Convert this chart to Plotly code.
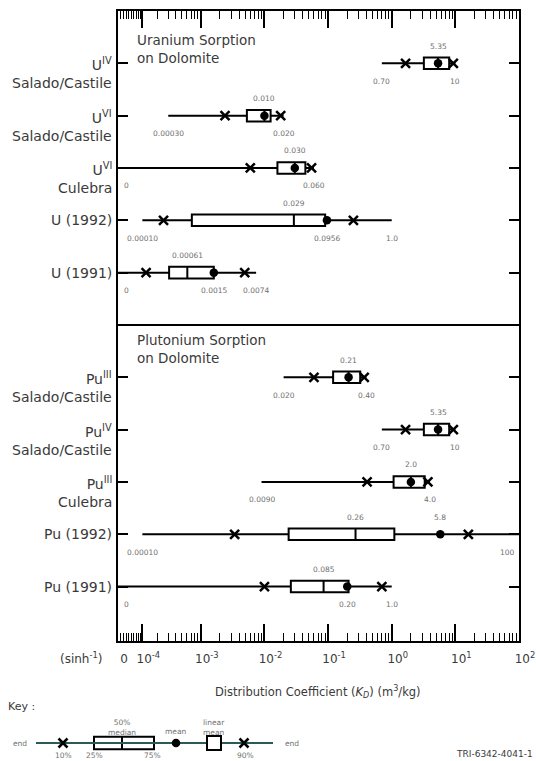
import numpy as np
import plotly.graph_objects as go

W, H = 536, 761

# ---------------- data ----------------
ROW_LABELS = [
    "U<sup>IV</sup><br>Salado/Castile",
    "U<sup>VI</sup><br>Salado/Castile",
    "U<sup>VI</sup><br>Culebra",
    "U (1992)",
    "U (1991)",
    "Pu<sup>III</sup><br>Salado/Castile",
    "Pu<sup>IV</sup><br>Salado/Castile",
    "Pu<sup>III</sup><br>Culebra",
    "Pu (1992)",
    "Pu (1991)",
]
ROW_PANEL = [0, 0, 0, 0, 0, 1, 1, 1, 1, 1]
PANEL_TITLES = ["Uranium Sorption<br>on Dolomite", "Plutonium Sorption<br>on Dolomite"]

KD_MIN = [0.70, 0.00030, 0.0, 0.00010, 0.0, 0.020, 0.70, 0.0090, 0.00010, 0.0]
KD_P10 = [1.65, 0.0024, 0.0060, 0.00025, 0.00012, 0.060, 1.65, 0.41, 0.0034, 0.010]
KD_P25 = [3.2, 0.0053, 0.016, 0.00072, 0.00031, 0.12, 3.2, 1.07, 0.024, 0.026]
KD_MED = [5.35, 0.010, 0.030, 0.029, 0.00061, 0.21, 5.35, 2.0, 0.27, 0.085]
KD_MEAN = [5.35, 0.010, 0.030, 0.096, 0.0016, 0.21, 5.35, 2.0, 5.8, 0.20]
KD_P75 = [8.0, 0.0125, 0.044, 0.090, 0.0016, 0.32, 8.0, 3.3, 1.1, 0.21]
KD_P90 = [9.3, 0.018, 0.055, 0.25, 0.0049, 0.37, 9.3, 3.7, 16.0, 0.70]
KD_MAX = [10.0, 0.020, 0.060, 1.0, 0.0074, 0.40, 10.0, 4.0, 100.0, 1.0]

LABELS_ABOVE = [
    [(5.35, "5.35")],
    [(0.010, "0.010")],
    [(0.030, "0.030")],
    [(0.029, "0.029")],
    [(0.00061, "0.00061")],
    [(0.21, "0.21")],
    [(5.35, "5.35")],
    [(2.0, "2.0")],
    [(0.27, "0.26"), (5.8, "5.8")],
    [(0.085, "0.085")],
]
LABELS_BELOW = [
    [(0.70, "0.70"), (10.0, "10")],
    [(0.00030, "0.00030"), (0.020, "0.020")],
    [(0.0, "0"), (0.060, "0.060")],
    [(0.00010, "0.00010"), (0.096, "0.0956"), (1.0, "1.0")],
    [(0.0, "0"), (0.0016, "0.0015"), (0.0074, "0.0074")],
    [(0.020, "0.020"), (0.40, "0.40")],
    [(0.70, "0.70"), (10.0, "10")],
    [(0.0090, "0.0090"), (4.0, "4.0")],
    [(0.00010, "0.00010"), (100.0, "100")],
    [(0.0, "0"), (0.20, "0.20"), (1.0, "1.0")],
]

TICK_VALUES = [0, 1e-4, 1e-3, 1e-2, 1e-1, 1.0, 10.0, 100.0]
TICK_LABELS = ["0", "10<sup>-4</sup>", "10<sup>-3</sup>", "10<sup>-2</sup>", "10<sup>-1</sup>",
               "10<sup>0</sup>", "10<sup>1</sup>", "10<sup>2</sup>"]
MINOR_VALUES = [k * 1e-5 for k in range(1, 10)] + \
               [k * 10.0 ** n for n in range(-4, 2) for k in range(2, 10)]

# key (illustration) positions along the key strip, in pixels
KEY_LINE = [36, 273]
KEY_X10, KEY_X90 = 63, 244
KEY_Q1, KEY_MED, KEY_Q3 = 94, 122, 154
KEY_MEAN, KEY_LMEAN = 176, 214

# ---------------- helpers ----------------
SINH_C = 1e-4


def xs(v):
    """sinh^-1 scale in decade units"""
    return np.arcsinh(np.asarray(v, dtype=float) / SINH_C) / np.log(10)


def py(pix):
    return 1 - pix / H


def pxx(pix):
    return pix / W


FONT = "DejaVu Sans"
TXT = "#3a3a3a"
SMALL = "#707070"

ypos = [i % 5 + 1 + 6 * p for i, p in enumerate(ROW_PANEL)]
divider_y = (ypos[4] + ypos[5]) / 2

fig = go.Figure()

# whiskers + boxes
fig.add_trace(go.Box(
    y=ypos, q1=xs(KD_P25), median=xs(KD_MED), q3=xs(KD_P75),
    lowerfence=xs(KD_MIN), upperfence=xs(KD_MAX),
    orientation="h", width=0.22, whiskerwidth=0,
    fillcolor="white", line=dict(color="black", width=2),
    boxpoints=False, hoverinfo="skip", showlegend=False,
))
# 10% / 90% markers
fig.add_trace(go.Scatter(
    x=np.concatenate([xs(KD_P10), xs(KD_P90)]), y=ypos + ypos, mode="markers",
    marker=dict(symbol="x-thin", size=9, line=dict(width=2.5, color="black")),
    hoverinfo="skip", showlegend=False,
))
# mean
fig.add_trace(go.Scatter(
    x=xs(KD_MEAN), y=ypos, mode="markers",
    marker=dict(symbol="circle", size=8.5, color="black"),
    hoverinfo="skip", showlegend=False,
))

ann = []
# row labels
for lab, y in zip(ROW_LABELS, ypos):
    two = "<br>" in lab
    ann.append(dict(x=pxx(114), xref="paper", y=y, yref="y", text=lab, showarrow=False,
                    xanchor="right", yanchor="top" if two else "middle", yshift=10 if two else 0,
                    align="right", font=dict(family=FONT, size=14, color=TXT)))
# value labels
for y, ab, be in zip(ypos, LABELS_ABOVE, LABELS_BELOW):
    for v, s in ab:
        ann.append(dict(x=float(xs(v)), xref="x", y=y, yref="y", text=s, showarrow=False,
                        xanchor="center", yanchor="middle",
                        yshift=17, font=dict(family=FONT, size=7.5, color=SMALL)))
    for v, s in be:
        d = dict(x=float(xs(v)), xref="x", y=y, yref="y", text=s, showarrow=False,
                 xanchor="center", yanchor="middle",
                 yshift=-18, font=dict(family=FONT, size=7.5, color=SMALL))
        if v <= 0:
            d["xshift"] = 8
        if v >= TICK_VALUES[-1]:
            d["xanchor"] = "right"
            d["xshift"] = -2
        ann.append(d)
# panel titles
for ttl, ycen in zip(PANEL_TITLES, [49, 349]):
    ann.append(dict(x=pxx(135), xref="paper", y=py(ycen), yref="paper", text=ttl,
                    showarrow=False, xanchor="left", yanchor="middle", align="left",
                    font=dict(family=FONT, size=13.5, color=TXT)))
# axis extras
ann.append(dict(x=pxx(105), xref="paper", y=py(658), yref="paper", text="(sinh<sup>-1</sup>)",
                xanchor="right", yanchor="middle", showarrow=False,
                font=dict(family=FONT, size=12, color=TXT)))
ann.append(dict(x=pxx(318), xref="paper", y=py(692), yref="paper",
                text="Distribution Coefficient (<i>K<sub>D</sub></i>) (m<sup>3</sup>/kg)",
                xanchor="center", yanchor="middle",
                showarrow=False, font=dict(family=FONT, size=11.5, color=TXT)))
ann.append(dict(x=pxx(6), xref="paper", y=py(706), yref="paper", text="Key :", xanchor="left",
                yanchor="middle", showarrow=False, font=dict(family=FONT, size=11, color=TXT)))
ann.append(dict(x=pxx(535), xref="paper", y=py(754), yref="paper", text="TRI-6342-4041-1",
                xanchor="right", yanchor="middle", showarrow=False,
                font=dict(family=FONT, size=9, color=TXT)))

# key texts
KEY_TEXT = [
    ("end", 20, 743), ("end", 292, 743),
    ("10%", KEY_X10, 755), ("25%", KEY_Q1, 755), ("75%", KEY_Q3 - 2, 755), ("90%", KEY_X90 + 1, 755),
    ("50%<br>median", KEY_MED, 727), ("mean", KEY_MEAN, 731), ("linear<br>mean", KEY_LMEAN, 727),
]
for s, x, yy in KEY_TEXT:
    ann.append(dict(x=x, xref="x3", y=py(yy), yref="paper", text=s, showarrow=False,
                    xanchor="center", yanchor="middle",
                    font=dict(family=FONT, size=7.5, color=SMALL)))

# key graphic
kk = dict(xaxis="x3", yaxis="y3", hoverinfo="skip", showlegend=False)
fig.add_trace(go.Scatter(x=KEY_LINE, y=[0, 0], mode="lines", line=dict(color="#2c5a5a", width=2), **kk))
fig.add_trace(go.Box(y=[0], q1=[KEY_Q1], median=[KEY_MED], q3=[KEY_Q3], lowerfence=[KEY_Q1],
                     upperfence=[KEY_Q3], orientation="h", width=1.4, whiskerwidth=0,
                     fillcolor="white", line=dict(color="black", width=2), boxpoints=False, **kk))
fig.add_trace(go.Scatter(x=[KEY_X10, KEY_X90], y=[0, 0], mode="markers",
                         marker=dict(symbol="x-thin", size=9, line=dict(width=2.5, color="black")), **kk))
fig.add_trace(go.Scatter(x=[KEY_MEAN], y=[0], mode="markers",
                         marker=dict(symbol="circle", size=8.5, color="black"), **kk))
fig.add_trace(go.Scatter(x=[KEY_LMEAN], y=[0], mode="markers",
                         marker=dict(symbol="square", size=14, color="white",
                                     line=dict(color="black", width=2)), **kk))

fig.update_layout(
    width=W, height=H, autosize=False,
    margin=dict(l=0, r=0, t=0, b=0, autoexpand=False),
    paper_bgcolor="white", plot_bgcolor="white",
    showlegend=False,
    annotations=ann,
    shapes=[dict(type="line", xref="x domain", x0=0, x1=1, yref="y", y0=divider_y, y1=divider_y,
                 line=dict(color="black", width=2))],
    xaxis=dict(domain=[pxx(118), pxx(519)], range=[0, float(xs(TICK_VALUES[-1]))],
               automargin=False,
               tickmode="array", tickvals=xs(TICK_VALUES), ticktext=TICK_LABELS,
               ticks="inside", ticklen=17, tickwidth=1.5, tickcolor="black",
               showline=True, linewidth=2, linecolor="black", mirror="ticks",
               showgrid=False, zeroline=False, ticklabelstandoff=6, ticklabelshift=6,
               tickfont=dict(family=FONT, size=12, color=TXT),
               minor=dict(tickmode="array", tickvals=xs(MINOR_VALUES), ticks="inside",
                          ticklen=8, tickwidth=1.2, tickcolor="black", showgrid=False)),
    yaxis=dict(domain=[py(641), py(11)], range=[12.04, 0], automargin=False,
               tickmode="array", tickvals=ypos, ticks="inside", ticklen=10, tickwidth=1.5,
               tickcolor="black", showticklabels=False,
               showline=True, linewidth=2, linecolor="black", mirror="ticks",
               showgrid=False, zeroline=False),
    xaxis3=dict(domain=[0, 1], range=[0, W], visible=False, anchor="y3", automargin=False),
    yaxis3=dict(domain=[py(752), py(734)], range=[-1, 1], visible=False, anchor="x3",
                automargin=False),
)

fig.write_html(
    "out.html",
    config={"displayModeBar": False},
    post_script="document.body.style.margin='0';document.documentElement.style.overflow='hidden';",
)
